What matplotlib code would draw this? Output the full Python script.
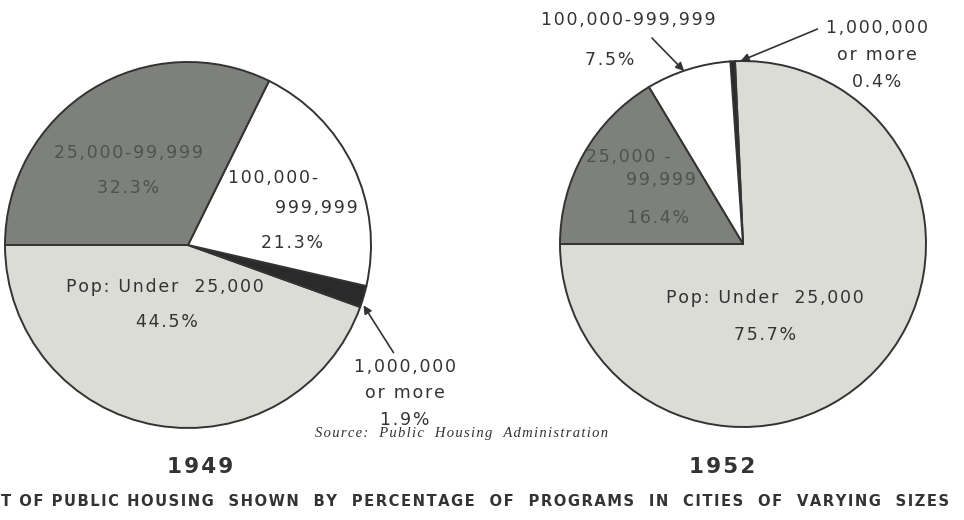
import matplotlib.pyplot as plt

# dados das duas pizzas (percentual de programas por tamanho de cidade)
faixas = ["Pop: Under 25,000", "1,000,000 or more", "100,000-999,999", "25,000-99,999"]
valores_1949 = [44.5, 1.9, 21.3, 32.3]
valores_1952 = [75.7, 0.4, 7.5, 16.4]
anos = ["1949", "1952"]
titulo = "T OF PUBLIC HOUSING  SHOWN  BY  PERCENTAGE  OF  PROGRAMS  IN  CITIES  OF  VARYING  SIZES"
fonte = "Source:  Public  Housing  Administration"

cores = ["#dcdcd6", "#2a2a2a", "#ffffff", "#7e807b"]
tinta = "#333333"
W, H = 964, 520


def Y(y):
    # converte coordenada de pixel (de cima) para dados
    return H - y


def esp(s, n=1):
    # espacamento entre letras com hair space
    return ("\u200a" * n).join(s)


fig = plt.figure(figsize=(9.64, 5.2), dpi=100)
ax = fig.add_axes([0, 0, 1, 1])

wp = dict(edgecolor=tinta, linewidth=1.4)
ax.pie(valores_1949, colors=cores, startangle=180, counterclock=True,
       center=(188, Y(245)), radius=183, wedgeprops=wp)
ax.pie(valores_1952, colors=cores, startangle=180, counterclock=True,
       center=(743, Y(244)), radius=183, wedgeprops=wp)

ax.set_xlim(0, W)
ax.set_ylim(0, H)
ax.set_aspect("equal")
ax.axis("off")

fs = 12.5
fam = "DejaVu Sans"
txt = dict(fontsize=fs, family=fam, color=tinta, ha="center", va="center")
txt_esc = dict(txt, color="#505250")
seta = dict(arrowstyle="-|>", color=tinta, lw=1.2, mutation_scale=12)

# rotulos 1949
ax.text(128, Y(153), esp("25,000-99,999"), **txt_esc)
ax.text(128, Y(188), esp("32.3%"), **txt_esc)
ax.text(228, Y(178), esp("100,000-"), **dict(txt, ha="left"))
ax.text(358, Y(208), esp("999,999"), **dict(txt, ha="right"))
ax.text(292, Y(243), esp("21.3%"), **txt)
ax.text(165, Y(287), esp("Pop: Under  25,000"), **txt)
ax.text(167, Y(322), esp("44.5%"), **txt)
ax.text(405, Y(367), esp("1,000,000"), **txt)
ax.text(405, Y(393), esp("or more"), **txt)
ax.text(405, Y(420), esp("1.9%"), **txt)
ax.annotate("", xy=(362, Y(303)), xytext=(395, Y(355)), arrowprops=seta)

# rotulos 1952
ax.text(628, Y(20), esp("100,000-999,999"), **txt)
ax.text(610, Y(60), esp("7.5%"), **txt)
ax.annotate("", xy=(686, Y(73)), xytext=(650, Y(36)), arrowprops=seta)
ax.text(877, Y(28), esp("1,000,000"), **txt)
ax.text(877, Y(55), esp("or more"), **txt)
ax.text(877, Y(82), esp("0.4%"), **txt)
ax.annotate("", xy=(738, Y(62)), xytext=(820, Y(28)), arrowprops=seta)
ax.text(628, Y(157), esp("25,000 -"), **txt_esc)
ax.text(661, Y(180), esp("99,999"), **txt_esc)
ax.text(658, Y(218), esp("16.4%"), **txt_esc)
ax.text(765, Y(298), esp("Pop: Under  25,000"), **txt)
ax.text(765, Y(335), esp("75.7%"), **txt)

# fonte, anos e titulo
ax.text(462, Y(434), esp(fonte), fontsize=10.5, family="Liberation Serif", style="italic",
        color=tinta, ha="center", va="center")
ax.text(200, Y(467), esp(anos[0]), fontsize=15.5, weight="bold", family=fam,
        color=tinta, ha="center", va="center")
ax.text(722, Y(467), esp(anos[1]), fontsize=15.5, weight="bold", family=fam,
        color=tinta, ha="center", va="center")
ax.text(1, Y(501), esp(titulo), fontsize=10.6, weight="bold", family=fam,
        color=tinta, ha="left", va="center")

fig.savefig("out.png", dpi=100, facecolor="white")
